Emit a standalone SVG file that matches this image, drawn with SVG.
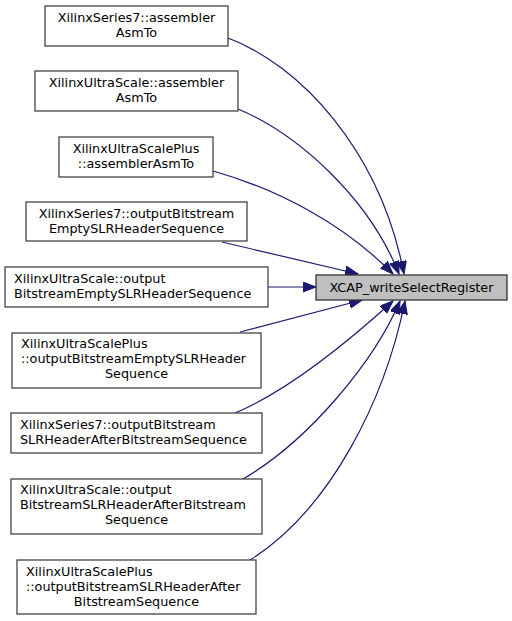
<svg xmlns="http://www.w3.org/2000/svg" width="512" height="621" viewBox="0 0 512 621">
<style>
.n rect{fill:#ffffff;stroke:#444444;stroke-width:1.3}
.t rect{fill:#bfbfbf;stroke:#333333;stroke-width:1.3}
text{font-family:"DejaVu Sans",sans-serif;font-size:12.8px;fill:#000}
.c{text-anchor:middle}
#edges path{fill:none;stroke:#191970;stroke-width:1.2;marker-end:url(#ah)}
</style>
<defs>
<marker id="ah" markerUnits="userSpaceOnUse" markerWidth="16" markerHeight="12" refX="13" refY="5" orient="auto">
<path d="M0,0 L13,5 L0,10 Z" fill="#191970" stroke="#191970" stroke-width="1"/>
</marker>
</defs>
<rect width="512" height="621" fill="#ffffff"/>
<g id="edges">
<path d="M228,38 C300,65 380,150 404,274"/>
<path d="M238,109 C300,135 370,200 399,274"/>
<path d="M213,171 C280,190 345,225 393,274"/>
<path d="M222,242 L358,274"/>
<path d="M268,287 L316,287"/>
<path d="M240,332 L362,300"/>
<path d="M235,413 C290,390 350,340 393,301"/>
<path d="M243,479 C310,440 375,360 400,301"/>
<path d="M250,560 C330,510 385,400 405,301"/>
</g>
<g id="target" class="t">
<rect x="316" y="275" width="191" height="25"/>
<text class="c" x="411.5" y="292">XCAP_writeSelectRegister</text>
</g>
<g id="n1" class="n">
<rect x="45" y="6" width="183" height="40"/>
<text class="c" x="136.5" y="22">XilinxSeries7::assembler</text>
<text class="c" x="136.5" y="37">AsmTo</text>
</g>
<g id="n2" class="n">
<rect x="35" y="71" width="203" height="40"/>
<text class="c" x="136.5" y="87">XilinxUltraScale::assembler</text>
<text class="c" x="136.5" y="102">AsmTo</text>
</g>
<g id="n3" class="n">
<rect x="59" y="137" width="154" height="40"/>
<text class="c" x="136" y="153">XilinxUltraScalePlus</text>
<text class="c" x="136" y="168">::assemblerAsmTo</text>
</g>
<g id="n4" class="n">
<rect x="26" y="202" width="221" height="39"/>
<text class="c" x="136.5" y="218">XilinxSeries7::outputBitstream</text>
<text class="c" x="136.5" y="233">EmptySLRHeaderSequence</text>
</g>
<g id="n5" class="n">
<rect x="5" y="267" width="263" height="40"/>
<text x="14" y="283">XilinxUltraScale::output</text>
<text x="14" y="298">BitstreamEmptySLRHeaderSequence</text>
</g>
<g id="n6" class="n">
<rect x="12" y="333" width="249" height="55"/>
<text x="21" y="348">XilinxUltraScalePlus</text>
<text x="21" y="363">::outputBitstreamEmptySLRHeader</text>
<text class="c" x="136.5" y="378">Sequence</text>
</g>
<g id="n7" class="n">
<rect x="11" y="413" width="251" height="40"/>
<text x="20" y="429">XilinxSeries7::outputBitstream</text>
<text x="20" y="444">SLRHeaderAfterBitstreamSequence</text>
</g>
<g id="n8" class="n">
<rect x="11" y="479" width="251" height="55"/>
<text x="20" y="494">XilinxUltraScale::output</text>
<text x="20" y="509">BitstreamSLRHeaderAfterBitstream</text>
<text class="c" x="136.5" y="524">Sequence</text>
</g>
<g id="n9" class="n">
<rect x="17" y="560" width="239" height="54"/>
<text x="26" y="576">XilinxUltraScalePlus</text>
<text x="26" y="591">::outputBitstreamSLRHeaderAfter</text>
<text class="c" x="136.5" y="606">BitstreamSequence</text>
</g>
</svg>
